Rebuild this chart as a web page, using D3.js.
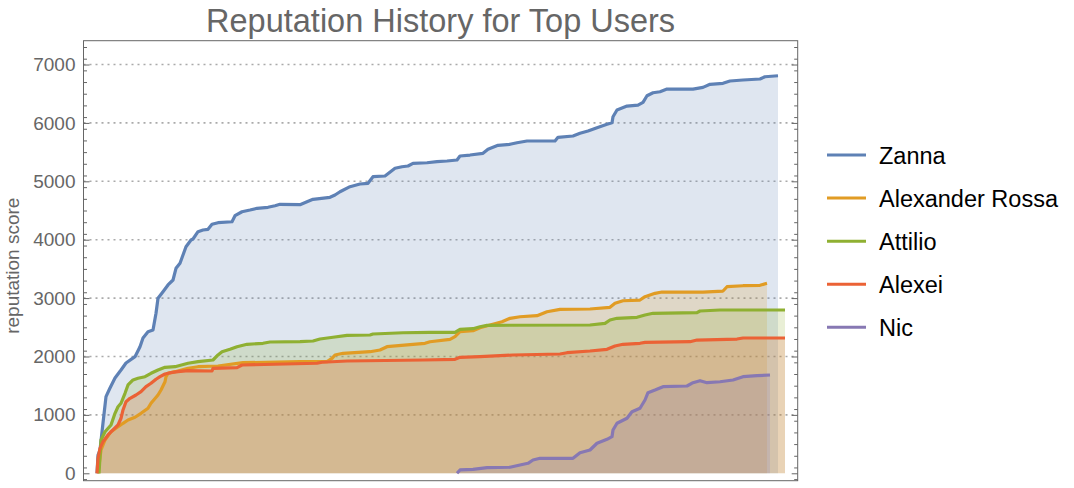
<!DOCTYPE html>
<html>
<head>
<meta charset="utf-8">
<script src="https://cdn.jsdelivr.net/npm/d3@7/dist/d3.min.js"></script>
<style>
  html, body { margin: 0; padding: 0; background: #fff; }
  svg { display: block; font-family: "Liberation Sans", Arial, sans-serif; }
</style>
</head>
<body>
<svg id="chart" width="1074" height="488"></svg>
<script>
// ---- data (x = days since first activity, y = reputation) ----
const seriesNames = ["Zanna", "Alexander Rossa", "Attilio", "Alexei", "Nic"];
const seriesColors = ["#5E81B5", "#E19C24", "#8FB032", "#EB6235", "#8778B3"];

const zannaDays = [0,1,3,6,9,13,18,24,29,38,43,46,51,56,59,61,66,71,76,79,83,86,89,94,96,101,106,111,115,121,135,138,145,153,160,171,178,183,203,210,216,233,238,243,253,263,271,276,288,298,305,311,316,330,340,350,360,363,373,386,391,401,413,420,430,458,461,476,483,491,500,510,515,516,520,530,541,546,550,556,563,570,596,606,613,626,633,646,663,668,681];
const zannaRep  = [0,313,399,861,1312,1461,1632,1769,1889,1997,2168,2317,2425,2454,2740,2997,3110,3225,3310,3510,3596,3738,3880,3995,4012,4137,4166,4178,4264,4291,4308,4411,4479,4508,4538,4555,4582,4606,4600,4650,4692,4726,4765,4822,4908,4954,4966,5079,5091,5223,5250,5262,5308,5318,5336,5348,5365,5433,5450,5479,5548,5616,5634,5661,5690,5690,5753,5776,5822,5861,5918,5976,6003,6106,6221,6289,6306,6353,6466,6517,6534,6580,6580,6609,6661,6678,6718,6735,6752,6791,6808];

const rossaDays = [1,4,8,14,19,26,31,38,44,51,54,61,64,68,69,71,78,91,101,121,146,203,230,235,238,246,273,283,290,316,328,333,353,358,363,376,383,393,405,413,423,440,450,463,493,513,518,526,543,548,558,565,606,626,630,646,663,670];
const rossaRep  = [0,399,570,713,771,856,913,959,1027,1113,1199,1341,1426,1568,1654,1712,1740,1798,1825,1837,1894,1911,1911,1969,2026,2055,2082,2111,2168,2209,2226,2253,2294,2339,2425,2442,2493,2539,2596,2654,2681,2699,2767,2808,2813,2842,2911,2955,2967,3024,3082,3104,3104,3121,3195,3212,3219,3253];

const attilioDays = [2,4,8,14,18,21,24,28,31,36,41,48,54,61,68,78,91,101,116,121,125,133,140,150,166,173,203,216,223,236,250,273,276,306,333,358,363,376,383,390,493,508,513,520,540,548,556,600,603,623,688];
const attilioRep  = [0,570,712,827,1027,1140,1199,1370,1512,1598,1627,1654,1712,1769,1815,1825,1884,1911,1940,2026,2082,2123,2168,2209,2226,2248,2253,2265,2300,2329,2363,2368,2385,2407,2414,2414,2466,2476,2510,2534,2539,2568,2625,2654,2671,2711,2740,2750,2779,2796,2796];

const alexeiDays = [0,1,3,6,11,16,21,24,26,29,33,39,44,49,54,59,63,68,74,81,91,115,116,140,145,220,225,250,326,358,363,383,416,463,470,493,510,518,526,543,548,593,600,640,646,688];
const alexeiRep  = [0,257,428,541,656,742,827,942,1084,1226,1284,1341,1397,1483,1541,1610,1654,1700,1723,1740,1757,1752,1798,1808,1854,1884,1901,1923,1940,1952,1986,1997,2026,2043,2065,2094,2123,2180,2209,2226,2243,2253,2282,2299,2317,2317];

const nicDays = [360,363,376,390,413,423,431,436,443,476,483,493,500,510,515,516,520,530,535,543,548,551,558,566,590,596,603,610,623,636,646,660,673];
const nicRep  = [0,57,68,96,103,142,171,228,257,257,353,399,514,582,627,741,856,942,1055,1113,1255,1380,1426,1483,1495,1551,1586,1551,1568,1598,1654,1671,1683];

const yTicks = [0,1000,2000,3000,4000,5000,6000,7000];
const titleText = "Reputation History for Top Users";
const yLabel = "reputation score";

const allDays = [zannaDays, rossaDays, attilioDays, alexeiDays, nicDays];
const allReps = [zannaRep, rossaRep, attilioRep, alexeiRep, nicRep];
const series = seriesNames.map((name, i) => ({
  name, color: seriesColors[i],
  values: allDays[i].map((d, j) => ({ x: d, y: allReps[i][j] }))
}));

// ---- layout ----
const svg = d3.select("#chart");
const frame = { left: 83.5, right: 797.7, top: 40.7, bottom: 480.7 };

const x = d3.scaleLinear().domain([-13.5, 700.7]).range([frame.left, frame.right]);
const y = d3.scaleLinear().domain([-127, 7408]).range([frame.bottom, frame.top]);

const gridColor = "#aaaaaa";
const axisColor = "#666666";
const textColor = "#666666";

// grid lines
svg.append("g").selectAll("line")
  .data(yTicks.filter(t => t > 0))
  .join("line")
  .attr("x1", frame.left).attr("x2", frame.right)
  .attr("y1", d => y(d)).attr("y2", d => y(d))
  .attr("stroke", gridColor).attr("stroke-width", 1.6)
  .attr("stroke-dasharray", "2,4");

// fills
const area = d3.area().x(d => x(d.x)).y0(y(0)).y1(d => y(d.y));
svg.append("g").selectAll("path")
  .data(series)
  .join("path")
  .attr("d", d => area(d.values))
  .attr("fill", d => d.color)
  .attr("fill-opacity", 0.2)
  .attr("stroke", "none");

// lines
const line = d3.line().x(d => x(d.x)).y(d => y(d.y));
svg.append("g").selectAll("path")
  .data(series)
  .join("path")
  .attr("d", d => line(d.values))
  .attr("fill", "none")
  .attr("stroke", d => d.color)
  .attr("stroke-width", 3.2)
  .attr("stroke-linejoin", "round");

// frame
svg.append("rect")
  .attr("x", frame.left).attr("y", frame.top)
  .attr("width", frame.right - frame.left).attr("height", frame.bottom - frame.top)
  .attr("fill", "none").attr("stroke", axisColor).attr("stroke-width", 1);

// left axis (ticks inside) and right mirror ticks
const minorTicks = d3.range(-100, 7500, 200).filter(v => v > -127 && v < 7408);
const leftAxis = d3.axisLeft(y).tickValues(yTicks).tickSize(-6).tickPadding(8).tickFormat(d3.format("d"));
const gL = svg.append("g").attr("transform", `translate(${frame.left},0)`).call(leftAxis);
gL.select(".domain").remove();
gL.selectAll(".tick line").attr("stroke", axisColor);
gL.selectAll(".tick text")
  .attr("fill", textColor)
  .attr("font-size", 19)
  .style("font-size", "19px")
  .style("font-family", "'Liberation Sans', Arial, sans-serif");

const gLm = svg.append("g").attr("transform", `translate(${frame.left},0)`)
  .call(d3.axisLeft(y).tickValues(minorTicks).tickSize(-3.5).tickFormat(""));
gLm.select(".domain").remove();
gLm.selectAll(".tick line").attr("stroke", axisColor);

const gR = svg.append("g").attr("transform", `translate(${frame.right},0)`)
  .call(d3.axisRight(y).tickValues(yTicks).tickSize(-6).tickFormat(""));
gR.select(".domain").remove();
gR.selectAll(".tick line").attr("stroke", axisColor);
const gRm = svg.append("g").attr("transform", `translate(${frame.right},0)`)
  .call(d3.axisRight(y).tickValues(minorTicks).tickSize(-3.5).tickFormat(""));
gRm.select(".domain").remove();
gRm.selectAll(".tick line").attr("stroke", axisColor);

// y label
svg.append("text")
  .attr("transform", `translate(19,${(frame.top + frame.bottom) / 2 + 5}) rotate(-90)`)
  .attr("text-anchor", "middle")
  .attr("fill", textColor)
  .style("font-size", "19px")
  .text(yLabel);

// title
svg.append("text")
  .attr("x", (frame.left + frame.right) / 2)
  .attr("y", 32)
  .attr("text-anchor", "middle")
  .attr("fill", textColor)
  .style("font-size", "32.5px")
  .text(titleText);

// legend
const legendY = d3.scalePoint().domain(seriesNames).range([155, 327.3]);
const lg = svg.append("g").selectAll("g")
  .data(series)
  .join("g")
  .attr("transform", d => `translate(0,${legendY(d.name)})`);
lg.append("line")
  .attr("x1", 827).attr("x2", 866)
  .attr("stroke", d => d.color).attr("stroke-width", 3);
lg.append("text")
  .attr("x", 879).attr("y", 8.5)
  .attr("fill", "#000")
  .style("font-size", "23.5px")
  .text(d => d.name);
</script>
</body>
</html>
